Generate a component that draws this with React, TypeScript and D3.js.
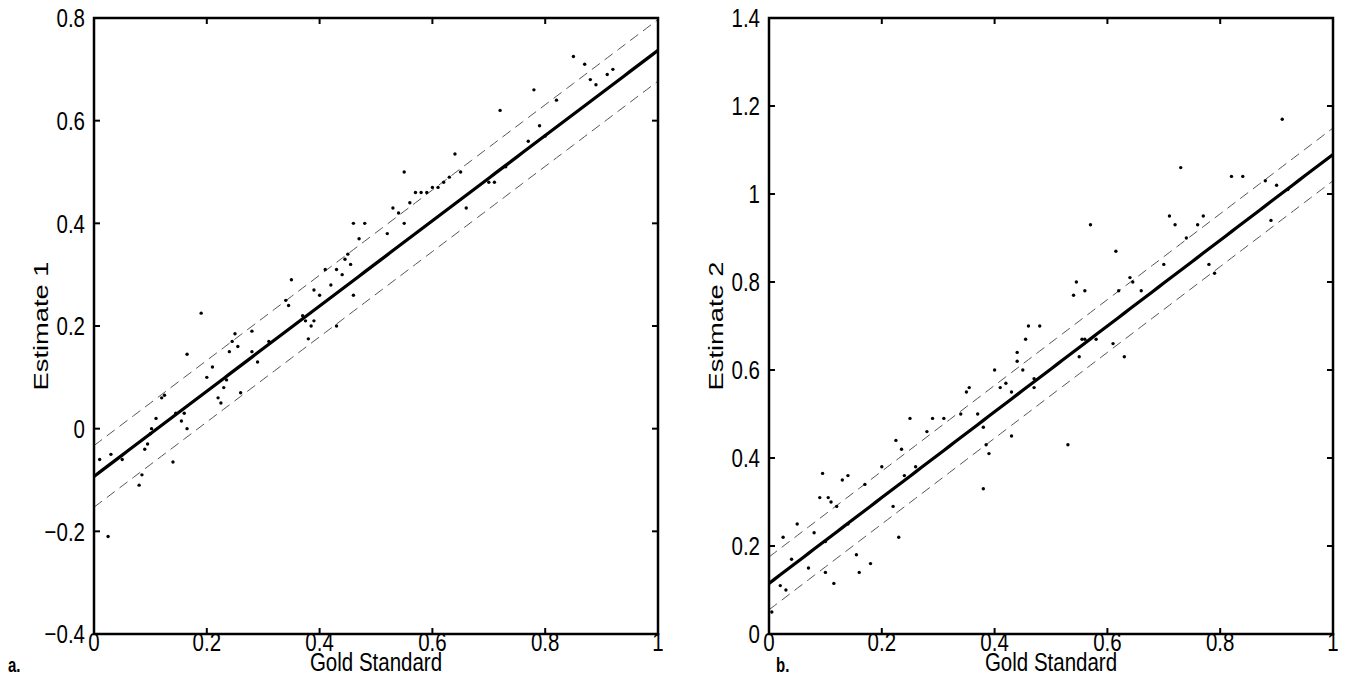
import React from "react";
import { scaleLinear, line, range } from "d3";

// points (gold standard, estimate 1)
const goldA = [
  0.01, 0.03, 0.025, 0.05, 0.08, 0.085, 0.09, 0.095, 0.1, 0.102, 0.11, 0.12, 0.125, 0.14, 0.145, 0.155,
  0.16, 0.165, 0.165, 0.19, 0.2, 0.21, 0.22, 0.225, 0.23, 0.235, 0.24, 0.245, 0.25, 0.255, 0.26, 0.28,
  0.28, 0.29, 0.31, 0.34, 0.35, 0.345, 0.37, 0.375, 0.38, 0.385, 0.39, 0.39, 0.4, 0.41, 0.42, 0.43,
  0.43, 0.44, 0.445, 0.45, 0.455, 0.46, 0.46, 0.47, 0.48, 0.52, 0.53, 0.54, 0.55, 0.55, 0.56, 0.57,
  0.58, 0.59, 0.6, 0.61, 0.62, 0.63, 0.64, 0.65, 0.66, 0.7, 0.71, 0.72, 0.73, 0.77, 0.78, 0.79, 0.8,
  0.82, 0.85, 0.87, 0.88, 0.89, 0.91, 0.92,
];
const estA = [
  -0.06, -0.05, -0.21, -0.06, -0.11, -0.09, -0.04, -0.03, -0.01, 0.0, 0.02, 0.06, 0.065, -0.065, 0.03, 0.015,
  0.03, 0.0, 0.145, 0.225, 0.1, 0.12, 0.06, 0.05, 0.08, 0.095, 0.15, 0.17, 0.185, 0.16, 0.07, 0.19,
  0.15, 0.13, 0.17, 0.25, 0.29, 0.24, 0.22, 0.21, 0.175, 0.2, 0.21, 0.27, 0.26, 0.31, 0.28, 0.2,
  0.31, 0.3, 0.33, 0.34, 0.32, 0.26, 0.4, 0.37, 0.4, 0.38, 0.43, 0.42, 0.5, 0.4, 0.44, 0.46,
  0.46, 0.46, 0.47, 0.47, 0.48, 0.49, 0.535, 0.5, 0.43, 0.48, 0.48, 0.62, 0.51, 0.56, 0.66, 0.59, 0.57,
  0.64, 0.725, 0.71, 0.68, 0.67, 0.69, 0.7,
];

// points (gold standard, estimate 2)
const goldB = [
  0.005, 0.02, 0.025, 0.03, 0.04, 0.05, 0.07, 0.08, 0.09, 0.095, 0.1, 0.1, 0.105, 0.11, 0.115, 0.12,
  0.13, 0.14, 0.14, 0.155, 0.16, 0.17, 0.18, 0.2, 0.22, 0.225, 0.23, 0.235, 0.24, 0.25, 0.26, 0.28,
  0.29, 0.31, 0.34, 0.35, 0.355, 0.37, 0.38, 0.38, 0.385, 0.39, 0.4, 0.41, 0.42, 0.43, 0.43, 0.44,
  0.44, 0.45, 0.455, 0.46, 0.47, 0.47, 0.48, 0.53, 0.54, 0.545, 0.55, 0.555, 0.56, 0.56, 0.57, 0.58,
  0.61, 0.615, 0.62, 0.63, 0.64, 0.645, 0.66, 0.7, 0.71, 0.72, 0.73, 0.74, 0.76, 0.77, 0.78, 0.79,
  0.82, 0.84, 0.88, 0.89, 0.9, 0.91, 0.92,
];
const estB = [
  0.05, 0.11, 0.22, 0.1, 0.17, 0.25, 0.15, 0.23, 0.31, 0.365, 0.14, 0.21, 0.31, 0.3, 0.115, 0.29,
  0.35, 0.36, 0.25, 0.18, 0.14, 0.34, 0.16, 0.38, 0.29, 0.44, 0.22, 0.42, 0.36, 0.49, 0.38, 0.46,
  0.49, 0.49, 0.5, 0.55, 0.56, 0.5, 0.47, 0.33, 0.43, 0.41, 0.6, 0.56, 0.57, 0.55, 0.45, 0.62,
  0.64, 0.6, 0.67, 0.7, 0.58, 0.56, 0.7, 0.43, 0.77, 0.8, 0.63, 0.67, 0.67, 0.78, 0.93, 0.67,
  0.66, 0.87, 0.78, 0.63, 0.81, 0.8, 0.78, 0.84, 0.95, 0.93, 1.06, 0.9, 0.93, 0.95, 0.84, 0.82,
  1.04, 1.04, 1.03, 0.94, 1.02, 1.17, 1.01,
];

// fitted line (intercept, slope) and the half-width of the dashed band
const fitA = [-0.093, 0.83];
const fitB = [0.115, 0.975];
const band = 0.06;

const xTicks = [0, 0.2, 0.4, 0.6, 0.8, 1];
const yTicksA = [-0.4, -0.2, 0, 0.2, 0.4, 0.6, 0.8];
const yTicksB = [0, 0.2, 0.4, 0.6, 0.8, 1, 1.2, 1.4];

const font = "'Liberation Sans', Arial, Helvetica, sans-serif";
// the source figure is stretched vertically, text included
const stretch = 1.3;

const fmt = (v: number) => {
  const s = String(Math.round(v * 10) / 10);
  return s.replace("-", "\u2212");
};

type PanelProps = {
  left: number;
  gold: number[];
  est: number[];
  fit: number[];
  yDomain: number[];
  yTicks: number[];
  yLabel: string;
  tag: string;
  tagX: number;
};

const Panel = ({ left, gold, est, fit, yDomain, yTicks, yLabel, tag, tagX }: PanelProps) => {
  const top = 18;
  const w = 564;
  const h = 616;
  const x = scaleLinear().domain([0, 1]).range([left, left + w]);
  const y = scaleLinear().domain(yDomain).range([top + h, top]);
  const bandLine = (off: number) =>
    line<number>()
      .x((d) => x(d))
      .y((d) => y(fit[0] + off + fit[1] * d));
  const xs = range(0, 1.0001, 0.01);
  const clipId = "clip" + tag;
  const tick = 6;
  return (
    <g fontFamily={font} fill="#000">
      <defs>
        <clipPath id={clipId}>
          <rect x={left} y={top} width={w} height={h} />
        </clipPath>
      </defs>
      <g clipPath={`url(#${clipId})`}>
        <path d={bandLine(band)(xs) || ""} fill="none" stroke="#555" strokeWidth={1} strokeDasharray="10,6" />
        <path d={bandLine(-band)(xs) || ""} fill="none" stroke="#555" strokeWidth={1} strokeDasharray="10,6" />
        <path d={bandLine(0)(xs) || ""} fill="none" stroke="#000" strokeWidth={3.2} />
        {gold.map((g, i) => (
          <circle key={i} cx={x(g)} cy={y(est[i])} r={1.7} fill="#000" />
        ))}
      </g>
      <rect x={left} y={top} width={w} height={h} fill="none" stroke="#000" strokeWidth={2.5} />
      {xTicks.map((t) => (
        <g key={"x" + t}>
          <line x1={x(t)} x2={x(t)} y1={top + h} y2={top + h - tick} stroke="#000" strokeWidth={2} />
          <line x1={x(t)} x2={x(t)} y1={top} y2={top + tick} stroke="#000" strokeWidth={2} />
          <text transform={`translate(${x(t)},651) scale(1,${stretch})`} fontSize={20.5} textAnchor="middle">
            {fmt(t)}
          </text>
        </g>
      ))}
      {yTicks.map((t) => (
        <g key={"y" + t}>
          <line x1={left} x2={left + tick} y1={y(t)} y2={y(t)} stroke="#000" strokeWidth={2} />
          <line x1={left + w} x2={left + w - tick} y1={y(t)} y2={y(t)} stroke="#000" strokeWidth={2} />
          <text
            transform={`translate(${left - 9},${y(t)}) scale(1,${stretch})`}
            dy="0.35em"
            fontSize={20.5}
            textAnchor="end"
          >
            {fmt(t)}
          </text>
        </g>
      ))}
      <text transform={`translate(${left + w / 2},671) scale(1,${stretch})`} fontSize={20.5} textAnchor="middle">
        Gold Standard
      </text>
      <text
        transform={`translate(${left - 46},${top + h / 2}) rotate(-90) scale(${stretch},1)`}
        fontSize={21}
        textAnchor="middle"
        fill="#000"
      >
        {yLabel}
      </text>
      <text transform={`translate(${tagX},672) scale(1,${stretch})`} fontSize={15} fontWeight="bold">
        {tag}.
      </text>
    </g>
  );
};

const App = () => {
  return (
    <svg
      width={1349}
      height={676}
      style={{ position: "absolute", left: 0, top: 0, background: "#fff" }}
    >
      <rect width={1349} height={676} fill="#fff" />
      <Panel left={94} gold={goldA} est={estA} fit={fitA} yDomain={[-0.4, 0.8]} yTicks={yTicksA} yLabel="Estimate 1" tag="a" tagX={8} />
      <Panel left={769} gold={goldB} est={estB} fit={fitB} yDomain={[0, 1.4]} yTicks={yTicksB} yLabel="Estimate 2" tag="b" tagX={776} />
    </svg>
  );
};

export default App;
